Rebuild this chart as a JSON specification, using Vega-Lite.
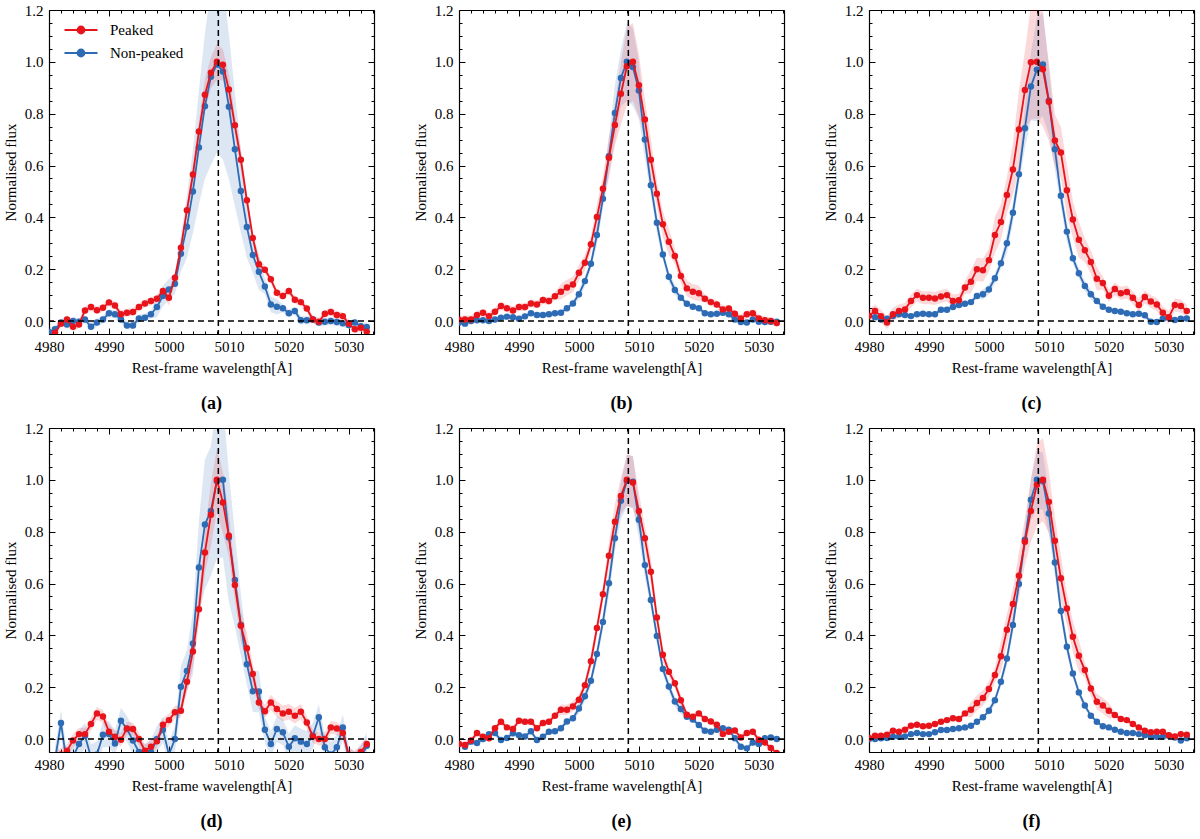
{
  "$schema": "https://vega.github.io/schema/vega-lite/v6.json",
  "background": "white",
  "padding": 3,
  "config": {
    "font": "Liberation Serif, DejaVu Serif, serif",
    "view": {"stroke": null},
    "axis": {"domainColor": "black", "domainWidth": 1.2, "tickColor": "black", "labelColor": "black", "titleColor": "black", "grid": false, "labelFont": "Liberation Serif, DejaVu Serif, serif", "titleFont": "Liberation Serif, DejaVu Serif, serif"},
    "legend": {"labelFont": "Liberation Serif, DejaVu Serif, serif"},
    "header": {"labelFont": "Liberation Serif, DejaVu Serif, serif"}
  },
  "data": {"values": [
    {"p":"(a)","g":"Non-peaked","x":4980,"y":-0.042,"lo":-0.057,"hi":-0.027},
    {"p":"(a)","g":"Non-peaked","x":4981,"y":-0.032,"lo":-0.047,"hi":-0.017},
    {"p":"(a)","g":"Non-peaked","x":4982,"y":-0.006,"lo":-0.021,"hi":0.009},
    {"p":"(a)","g":"Non-peaked","x":4983,"y":-0.013,"lo":-0.028,"hi":0.002},
    {"p":"(a)","g":"Non-peaked","x":4984,"y":0.0,"lo":-0.015,"hi":0.015},
    {"p":"(a)","g":"Non-peaked","x":4985,"y":-0.003,"lo":-0.018,"hi":0.012},
    {"p":"(a)","g":"Non-peaked","x":4986,"y":0.006,"lo":-0.009,"hi":0.021},
    {"p":"(a)","g":"Non-peaked","x":4987,"y":-0.022,"lo":-0.037,"hi":-0.007},
    {"p":"(a)","g":"Non-peaked","x":4988,"y":-0.006,"lo":-0.021,"hi":0.009},
    {"p":"(a)","g":"Non-peaked","x":4989,"y":0.006,"lo":-0.009,"hi":0.021},
    {"p":"(a)","g":"Non-peaked","x":4990,"y":0.03,"lo":0.015,"hi":0.045},
    {"p":"(a)","g":"Non-peaked","x":4991,"y":0.026,"lo":0.011,"hi":0.041},
    {"p":"(a)","g":"Non-peaked","x":4992,"y":0.006,"lo":-0.009,"hi":0.021},
    {"p":"(a)","g":"Non-peaked","x":4993,"y":-0.017,"lo":-0.032,"hi":-0.002},
    {"p":"(a)","g":"Non-peaked","x":4994,"y":-0.017,"lo":-0.032,"hi":-0.002},
    {"p":"(a)","g":"Non-peaked","x":4995,"y":0.01,"lo":-0.005,"hi":0.025},
    {"p":"(a)","g":"Non-peaked","x":4996,"y":0.013,"lo":-0.002,"hi":0.028},
    {"p":"(a)","g":"Non-peaked","x":4997,"y":0.026,"lo":0.011,"hi":0.041},
    {"p":"(a)","g":"Non-peaked","x":4998,"y":0.054,"lo":0.014,"hi":0.094},
    {"p":"(a)","g":"Non-peaked","x":4999,"y":0.097,"lo":0.057,"hi":0.137},
    {"p":"(a)","g":"Non-peaked","x":5000,"y":0.122,"lo":0.082,"hi":0.162},
    {"p":"(a)","g":"Non-peaked","x":5001,"y":0.144,"lo":0.104,"hi":0.184},
    {"p":"(a)","g":"Non-peaked","x":5002,"y":0.26,"lo":0.19,"hi":0.33},
    {"p":"(a)","g":"Non-peaked","x":5003,"y":0.364,"lo":0.244,"hi":0.484},
    {"p":"(a)","g":"Non-peaked","x":5004,"y":0.5,"lo":0.34,"hi":0.66},
    {"p":"(a)","g":"Non-peaked","x":5005,"y":0.67,"lo":0.45,"hi":0.89},
    {"p":"(a)","g":"Non-peaked","x":5006,"y":0.829,"lo":0.549,"hi":1.109},
    {"p":"(a)","g":"Non-peaked","x":5007,"y":0.942,"lo":0.602,"hi":1.282},
    {"p":"(a)","g":"Non-peaked","x":5008,"y":0.99,"lo":0.65,"hi":1.33},
    {"p":"(a)","g":"Non-peaked","x":5009,"y":0.963,"lo":0.623,"hi":1.303},
    {"p":"(a)","g":"Non-peaked","x":5010,"y":0.827,"lo":0.547,"hi":1.107},
    {"p":"(a)","g":"Non-peaked","x":5011,"y":0.663,"lo":0.443,"hi":0.883},
    {"p":"(a)","g":"Non-peaked","x":5012,"y":0.502,"lo":0.342,"hi":0.662},
    {"p":"(a)","g":"Non-peaked","x":5013,"y":0.363,"lo":0.243,"hi":0.483},
    {"p":"(a)","g":"Non-peaked","x":5014,"y":0.255,"lo":0.185,"hi":0.325},
    {"p":"(a)","g":"Non-peaked","x":5015,"y":0.19,"lo":0.12,"hi":0.26},
    {"p":"(a)","g":"Non-peaked","x":5016,"y":0.133,"lo":0.103,"hi":0.163},
    {"p":"(a)","g":"Non-peaked","x":5017,"y":0.064,"lo":0.034,"hi":0.094},
    {"p":"(a)","g":"Non-peaked","x":5018,"y":0.055,"lo":0.025,"hi":0.085},
    {"p":"(a)","g":"Non-peaked","x":5019,"y":0.049,"lo":0.034,"hi":0.064},
    {"p":"(a)","g":"Non-peaked","x":5020,"y":0.03,"lo":0.015,"hi":0.045},
    {"p":"(a)","g":"Non-peaked","x":5021,"y":0.039,"lo":0.024,"hi":0.054},
    {"p":"(a)","g":"Non-peaked","x":5022,"y":0.003,"lo":-0.012,"hi":0.018},
    {"p":"(a)","g":"Non-peaked","x":5023,"y":0.003,"lo":-0.012,"hi":0.018},
    {"p":"(a)","g":"Non-peaked","x":5024,"y":0.006,"lo":-0.009,"hi":0.021},
    {"p":"(a)","g":"Non-peaked","x":5025,"y":-0.006,"lo":-0.021,"hi":0.009},
    {"p":"(a)","g":"Non-peaked","x":5026,"y":-0.003,"lo":-0.018,"hi":0.012},
    {"p":"(a)","g":"Non-peaked","x":5027,"y":0.0,"lo":-0.015,"hi":0.015},
    {"p":"(a)","g":"Non-peaked","x":5028,"y":-0.004,"lo":-0.019,"hi":0.011},
    {"p":"(a)","g":"Non-peaked","x":5029,"y":-0.009,"lo":-0.024,"hi":0.006},
    {"p":"(a)","g":"Non-peaked","x":5030,"y":-0.015,"lo":-0.03,"hi":0.0},
    {"p":"(a)","g":"Non-peaked","x":5031,"y":-0.006,"lo":-0.021,"hi":0.009},
    {"p":"(a)","g":"Non-peaked","x":5032,"y":-0.02,"lo":-0.035,"hi":-0.005},
    {"p":"(a)","g":"Non-peaked","x":5033,"y":-0.023,"lo":-0.038,"hi":-0.008},
    {"p":"(a)","g":"Peaked","x":4981,"y":-0.045,"lo":-0.06,"hi":-0.03},
    {"p":"(a)","g":"Peaked","x":4982,"y":-0.01,"lo":-0.025,"hi":0.005},
    {"p":"(a)","g":"Peaked","x":4983,"y":0.006,"lo":-0.009,"hi":0.021},
    {"p":"(a)","g":"Peaked","x":4984,"y":-0.022,"lo":-0.037,"hi":-0.007},
    {"p":"(a)","g":"Peaked","x":4985,"y":-0.013,"lo":-0.028,"hi":0.002},
    {"p":"(a)","g":"Peaked","x":4986,"y":0.041,"lo":0.026,"hi":0.056},
    {"p":"(a)","g":"Peaked","x":4987,"y":0.054,"lo":0.039,"hi":0.069},
    {"p":"(a)","g":"Peaked","x":4988,"y":0.042,"lo":0.027,"hi":0.057},
    {"p":"(a)","g":"Peaked","x":4989,"y":0.051,"lo":0.036,"hi":0.066},
    {"p":"(a)","g":"Peaked","x":4990,"y":0.072,"lo":0.057,"hi":0.087},
    {"p":"(a)","g":"Peaked","x":4991,"y":0.06,"lo":0.045,"hi":0.075},
    {"p":"(a)","g":"Peaked","x":4992,"y":0.026,"lo":0.011,"hi":0.041},
    {"p":"(a)","g":"Peaked","x":4993,"y":0.032,"lo":0.017,"hi":0.047},
    {"p":"(a)","g":"Peaked","x":4994,"y":0.035,"lo":0.02,"hi":0.05},
    {"p":"(a)","g":"Peaked","x":4995,"y":0.054,"lo":0.039,"hi":0.069},
    {"p":"(a)","g":"Peaked","x":4996,"y":0.068,"lo":0.053,"hi":0.083},
    {"p":"(a)","g":"Peaked","x":4997,"y":0.077,"lo":0.062,"hi":0.092},
    {"p":"(a)","g":"Peaked","x":4998,"y":0.086,"lo":0.071,"hi":0.101},
    {"p":"(a)","g":"Peaked","x":4999,"y":0.116,"lo":0.101,"hi":0.131},
    {"p":"(a)","g":"Peaked","x":5000,"y":0.09,"lo":0.06,"hi":0.12},
    {"p":"(a)","g":"Peaked","x":5001,"y":0.167,"lo":0.152,"hi":0.182},
    {"p":"(a)","g":"Peaked","x":5002,"y":0.283,"lo":0.258,"hi":0.308},
    {"p":"(a)","g":"Peaked","x":5003,"y":0.427,"lo":0.402,"hi":0.452},
    {"p":"(a)","g":"Peaked","x":5004,"y":0.565,"lo":0.525,"hi":0.605},
    {"p":"(a)","g":"Peaked","x":5005,"y":0.731,"lo":0.691,"hi":0.771},
    {"p":"(a)","g":"Peaked","x":5006,"y":0.873,"lo":0.813,"hi":0.933},
    {"p":"(a)","g":"Peaked","x":5007,"y":0.958,"lo":0.898,"hi":1.018},
    {"p":"(a)","g":"Peaked","x":5008,"y":1.0,"lo":0.93,"hi":1.07},
    {"p":"(a)","g":"Peaked","x":5009,"y":0.989,"lo":0.929,"hi":1.049},
    {"p":"(a)","g":"Peaked","x":5010,"y":0.893,"lo":0.833,"hi":0.953},
    {"p":"(a)","g":"Peaked","x":5011,"y":0.755,"lo":0.715,"hi":0.795},
    {"p":"(a)","g":"Peaked","x":5012,"y":0.622,"lo":0.582,"hi":0.662},
    {"p":"(a)","g":"Peaked","x":5013,"y":0.466,"lo":0.441,"hi":0.491},
    {"p":"(a)","g":"Peaked","x":5014,"y":0.32,"lo":0.295,"hi":0.345},
    {"p":"(a)","g":"Peaked","x":5015,"y":0.219,"lo":0.194,"hi":0.244},
    {"p":"(a)","g":"Peaked","x":5016,"y":0.198,"lo":0.183,"hi":0.213},
    {"p":"(a)","g":"Peaked","x":5017,"y":0.161,"lo":0.146,"hi":0.176},
    {"p":"(a)","g":"Peaked","x":5018,"y":0.109,"lo":0.094,"hi":0.124},
    {"p":"(a)","g":"Peaked","x":5019,"y":0.097,"lo":0.082,"hi":0.112},
    {"p":"(a)","g":"Peaked","x":5020,"y":0.116,"lo":0.101,"hi":0.131},
    {"p":"(a)","g":"Peaked","x":5021,"y":0.082,"lo":0.067,"hi":0.097},
    {"p":"(a)","g":"Peaked","x":5022,"y":0.073,"lo":0.058,"hi":0.088},
    {"p":"(a)","g":"Peaked","x":5023,"y":0.048,"lo":0.033,"hi":0.063},
    {"p":"(a)","g":"Peaked","x":5024,"y":0.006,"lo":-0.009,"hi":0.021},
    {"p":"(a)","g":"Peaked","x":5025,"y":-0.003,"lo":-0.018,"hi":0.012},
    {"p":"(a)","g":"Peaked","x":5026,"y":0.028,"lo":0.013,"hi":0.043},
    {"p":"(a)","g":"Peaked","x":5027,"y":0.035,"lo":0.02,"hi":0.05},
    {"p":"(a)","g":"Peaked","x":5028,"y":0.023,"lo":0.008,"hi":0.038},
    {"p":"(a)","g":"Peaked","x":5029,"y":0.019,"lo":0.004,"hi":0.034},
    {"p":"(a)","g":"Peaked","x":5030,"y":-0.01,"lo":-0.025,"hi":0.005},
    {"p":"(a)","g":"Peaked","x":5031,"y":-0.032,"lo":-0.047,"hi":-0.017},
    {"p":"(a)","g":"Peaked","x":5032,"y":-0.026,"lo":-0.041,"hi":-0.011},
    {"p":"(a)","g":"Peaked","x":5033,"y":-0.041,"lo":-0.056,"hi":-0.026},

    {"p":"(b)","g":"Non-peaked","x":4980,"y":-0.006,"lo":-0.016,"hi":0.004},
    {"p":"(b)","g":"Non-peaked","x":4981,"y":-0.01,"lo":-0.02,"hi":0.0},
    {"p":"(b)","g":"Non-peaked","x":4982,"y":0.0,"lo":-0.01,"hi":0.01},
    {"p":"(b)","g":"Non-peaked","x":4983,"y":0.003,"lo":-0.007,"hi":0.013},
    {"p":"(b)","g":"Non-peaked","x":4984,"y":0.003,"lo":-0.007,"hi":0.013},
    {"p":"(b)","g":"Non-peaked","x":4985,"y":0.0,"lo":-0.01,"hi":0.01},
    {"p":"(b)","g":"Non-peaked","x":4986,"y":0.006,"lo":-0.004,"hi":0.016},
    {"p":"(b)","g":"Non-peaked","x":4987,"y":0.013,"lo":0.003,"hi":0.023},
    {"p":"(b)","g":"Non-peaked","x":4988,"y":0.017,"lo":0.007,"hi":0.027},
    {"p":"(b)","g":"Non-peaked","x":4989,"y":0.015,"lo":0.005,"hi":0.025},
    {"p":"(b)","g":"Non-peaked","x":4990,"y":0.009,"lo":-0.001,"hi":0.019},
    {"p":"(b)","g":"Non-peaked","x":4991,"y":0.018,"lo":0.008,"hi":0.028},
    {"p":"(b)","g":"Non-peaked","x":4992,"y":0.03,"lo":0.02,"hi":0.04},
    {"p":"(b)","g":"Non-peaked","x":4993,"y":0.023,"lo":0.013,"hi":0.033},
    {"p":"(b)","g":"Non-peaked","x":4994,"y":0.023,"lo":0.013,"hi":0.033},
    {"p":"(b)","g":"Non-peaked","x":4995,"y":0.026,"lo":0.016,"hi":0.036},
    {"p":"(b)","g":"Non-peaked","x":4996,"y":0.03,"lo":0.02,"hi":0.04},
    {"p":"(b)","g":"Non-peaked","x":4997,"y":0.032,"lo":0.022,"hi":0.042},
    {"p":"(b)","g":"Non-peaked","x":4998,"y":0.049,"lo":0.039,"hi":0.059},
    {"p":"(b)","g":"Non-peaked","x":4999,"y":0.068,"lo":0.058,"hi":0.078},
    {"p":"(b)","g":"Non-peaked","x":5000,"y":0.103,"lo":0.083,"hi":0.123},
    {"p":"(b)","g":"Non-peaked","x":5001,"y":0.154,"lo":0.134,"hi":0.174},
    {"p":"(b)","g":"Non-peaked","x":5002,"y":0.221,"lo":0.201,"hi":0.241},
    {"p":"(b)","g":"Non-peaked","x":5003,"y":0.332,"lo":0.292,"hi":0.372},
    {"p":"(b)","g":"Non-peaked","x":5004,"y":0.472,"lo":0.432,"hi":0.512},
    {"p":"(b)","g":"Non-peaked","x":5005,"y":0.636,"lo":0.566,"hi":0.706},
    {"p":"(b)","g":"Non-peaked","x":5006,"y":0.803,"lo":0.693,"hi":0.913},
    {"p":"(b)","g":"Non-peaked","x":5007,"y":0.938,"lo":0.828,"hi":1.048},
    {"p":"(b)","g":"Non-peaked","x":5008,"y":1.0,"lo":0.85,"hi":1.15},
    {"p":"(b)","g":"Non-peaked","x":5009,"y":0.98,"lo":0.83,"hi":1.13},
    {"p":"(b)","g":"Non-peaked","x":5010,"y":0.889,"lo":0.779,"hi":0.999},
    {"p":"(b)","g":"Non-peaked","x":5011,"y":0.7,"lo":0.63,"hi":0.77},
    {"p":"(b)","g":"Non-peaked","x":5012,"y":0.524,"lo":0.484,"hi":0.564},
    {"p":"(b)","g":"Non-peaked","x":5013,"y":0.379,"lo":0.339,"hi":0.419},
    {"p":"(b)","g":"Non-peaked","x":5014,"y":0.257,"lo":0.237,"hi":0.277},
    {"p":"(b)","g":"Non-peaked","x":5015,"y":0.171,"lo":0.151,"hi":0.191},
    {"p":"(b)","g":"Non-peaked","x":5016,"y":0.12,"lo":0.1,"hi":0.14},
    {"p":"(b)","g":"Non-peaked","x":5017,"y":0.09,"lo":0.08,"hi":0.1},
    {"p":"(b)","g":"Non-peaked","x":5018,"y":0.067,"lo":0.057,"hi":0.077},
    {"p":"(b)","g":"Non-peaked","x":5019,"y":0.055,"lo":0.045,"hi":0.065},
    {"p":"(b)","g":"Non-peaked","x":5020,"y":0.049,"lo":0.039,"hi":0.059},
    {"p":"(b)","g":"Non-peaked","x":5021,"y":0.03,"lo":0.02,"hi":0.04},
    {"p":"(b)","g":"Non-peaked","x":5022,"y":0.026,"lo":0.016,"hi":0.036},
    {"p":"(b)","g":"Non-peaked","x":5023,"y":0.028,"lo":0.018,"hi":0.038},
    {"p":"(b)","g":"Non-peaked","x":5024,"y":0.032,"lo":0.022,"hi":0.042},
    {"p":"(b)","g":"Non-peaked","x":5025,"y":0.026,"lo":0.016,"hi":0.036},
    {"p":"(b)","g":"Non-peaked","x":5026,"y":0.006,"lo":-0.004,"hi":0.016},
    {"p":"(b)","g":"Non-peaked","x":5027,"y":-0.004,"lo":-0.014,"hi":0.006},
    {"p":"(b)","g":"Non-peaked","x":5028,"y":-0.006,"lo":-0.016,"hi":0.004},
    {"p":"(b)","g":"Non-peaked","x":5029,"y":0.006,"lo":-0.004,"hi":0.016},
    {"p":"(b)","g":"Non-peaked","x":5030,"y":-0.003,"lo":-0.013,"hi":0.007},
    {"p":"(b)","g":"Non-peaked","x":5031,"y":-0.004,"lo":-0.014,"hi":0.006},
    {"p":"(b)","g":"Non-peaked","x":5032,"y":-0.003,"lo":-0.013,"hi":0.007},
    {"p":"(b)","g":"Non-peaked","x":5033,"y":-0.003,"lo":-0.013,"hi":0.007},
    {"p":"(b)","g":"Peaked","x":4980,"y":0.005,"lo":-0.01,"hi":0.02},
    {"p":"(b)","g":"Peaked","x":4981,"y":0.006,"lo":-0.009,"hi":0.021},
    {"p":"(b)","g":"Peaked","x":4982,"y":0.006,"lo":-0.009,"hi":0.021},
    {"p":"(b)","g":"Peaked","x":4983,"y":0.023,"lo":0.008,"hi":0.038},
    {"p":"(b)","g":"Peaked","x":4984,"y":0.032,"lo":0.017,"hi":0.047},
    {"p":"(b)","g":"Peaked","x":4985,"y":0.019,"lo":0.004,"hi":0.034},
    {"p":"(b)","g":"Peaked","x":4986,"y":0.036,"lo":0.021,"hi":0.051},
    {"p":"(b)","g":"Peaked","x":4987,"y":0.058,"lo":0.043,"hi":0.073},
    {"p":"(b)","g":"Peaked","x":4988,"y":0.049,"lo":0.034,"hi":0.064},
    {"p":"(b)","g":"Peaked","x":4989,"y":0.041,"lo":0.026,"hi":0.056},
    {"p":"(b)","g":"Peaked","x":4990,"y":0.054,"lo":0.039,"hi":0.069},
    {"p":"(b)","g":"Peaked","x":4991,"y":0.054,"lo":0.039,"hi":0.069},
    {"p":"(b)","g":"Peaked","x":4992,"y":0.068,"lo":0.053,"hi":0.083},
    {"p":"(b)","g":"Peaked","x":4993,"y":0.064,"lo":0.049,"hi":0.079},
    {"p":"(b)","g":"Peaked","x":4994,"y":0.081,"lo":0.066,"hi":0.096},
    {"p":"(b)","g":"Peaked","x":4995,"y":0.077,"lo":0.062,"hi":0.092},
    {"p":"(b)","g":"Peaked","x":4996,"y":0.096,"lo":0.081,"hi":0.111},
    {"p":"(b)","g":"Peaked","x":4997,"y":0.113,"lo":0.083,"hi":0.143},
    {"p":"(b)","g":"Peaked","x":4998,"y":0.129,"lo":0.099,"hi":0.159},
    {"p":"(b)","g":"Peaked","x":4999,"y":0.141,"lo":0.111,"hi":0.171},
    {"p":"(b)","g":"Peaked","x":5000,"y":0.186,"lo":0.156,"hi":0.216},
    {"p":"(b)","g":"Peaked","x":5001,"y":0.225,"lo":0.195,"hi":0.255},
    {"p":"(b)","g":"Peaked","x":5002,"y":0.296,"lo":0.266,"hi":0.326},
    {"p":"(b)","g":"Peaked","x":5003,"y":0.401,"lo":0.351,"hi":0.451},
    {"p":"(b)","g":"Peaked","x":5004,"y":0.51,"lo":0.46,"hi":0.56},
    {"p":"(b)","g":"Peaked","x":5005,"y":0.63,"lo":0.55,"hi":0.71},
    {"p":"(b)","g":"Peaked","x":5006,"y":0.756,"lo":0.676,"hi":0.836},
    {"p":"(b)","g":"Peaked","x":5007,"y":0.877,"lo":0.757,"hi":0.997},
    {"p":"(b)","g":"Peaked","x":5008,"y":0.983,"lo":0.833,"hi":1.133},
    {"p":"(b)","g":"Peaked","x":5009,"y":1.0,"lo":0.85,"hi":1.15},
    {"p":"(b)","g":"Peaked","x":5010,"y":0.91,"lo":0.79,"hi":1.03},
    {"p":"(b)","g":"Peaked","x":5011,"y":0.778,"lo":0.698,"hi":0.858},
    {"p":"(b)","g":"Peaked","x":5012,"y":0.622,"lo":0.542,"hi":0.702},
    {"p":"(b)","g":"Peaked","x":5013,"y":0.491,"lo":0.441,"hi":0.541},
    {"p":"(b)","g":"Peaked","x":5014,"y":0.373,"lo":0.323,"hi":0.423},
    {"p":"(b)","g":"Peaked","x":5015,"y":0.306,"lo":0.256,"hi":0.356},
    {"p":"(b)","g":"Peaked","x":5016,"y":0.251,"lo":0.221,"hi":0.281},
    {"p":"(b)","g":"Peaked","x":5017,"y":0.174,"lo":0.144,"hi":0.204},
    {"p":"(b)","g":"Peaked","x":5018,"y":0.126,"lo":0.096,"hi":0.156},
    {"p":"(b)","g":"Peaked","x":5019,"y":0.113,"lo":0.083,"hi":0.143},
    {"p":"(b)","g":"Peaked","x":5020,"y":0.107,"lo":0.077,"hi":0.137},
    {"p":"(b)","g":"Peaked","x":5021,"y":0.086,"lo":0.071,"hi":0.101},
    {"p":"(b)","g":"Peaked","x":5022,"y":0.073,"lo":0.058,"hi":0.088},
    {"p":"(b)","g":"Peaked","x":5023,"y":0.064,"lo":0.049,"hi":0.079},
    {"p":"(b)","g":"Peaked","x":5024,"y":0.045,"lo":0.03,"hi":0.06},
    {"p":"(b)","g":"Peaked","x":5025,"y":0.048,"lo":0.033,"hi":0.063},
    {"p":"(b)","g":"Peaked","x":5026,"y":0.028,"lo":0.013,"hi":0.043},
    {"p":"(b)","g":"Peaked","x":5027,"y":0.01,"lo":-0.005,"hi":0.025},
    {"p":"(b)","g":"Peaked","x":5028,"y":0.026,"lo":0.011,"hi":0.041},
    {"p":"(b)","g":"Peaked","x":5029,"y":0.03,"lo":0.015,"hi":0.045},
    {"p":"(b)","g":"Peaked","x":5030,"y":0.01,"lo":-0.005,"hi":0.025},
    {"p":"(b)","g":"Peaked","x":5031,"y":0.003,"lo":-0.012,"hi":0.018},
    {"p":"(b)","g":"Peaked","x":5032,"y":0.0,"lo":-0.015,"hi":0.015},
    {"p":"(b)","g":"Peaked","x":5033,"y":-0.008,"lo":-0.023,"hi":0.007},

    {"p":"(c)","g":"Non-peaked","x":4981,"y":0.015,"lo":0.005,"hi":0.025},
    {"p":"(c)","g":"Non-peaked","x":4982,"y":0.006,"lo":-0.004,"hi":0.016},
    {"p":"(c)","g":"Non-peaked","x":4983,"y":0.009,"lo":-0.001,"hi":0.019},
    {"p":"(c)","g":"Non-peaked","x":4984,"y":0.019,"lo":0.009,"hi":0.029},
    {"p":"(c)","g":"Non-peaked","x":4985,"y":0.026,"lo":0.016,"hi":0.036},
    {"p":"(c)","g":"Non-peaked","x":4986,"y":0.023,"lo":0.013,"hi":0.033},
    {"p":"(c)","g":"Non-peaked","x":4987,"y":0.019,"lo":0.009,"hi":0.029},
    {"p":"(c)","g":"Non-peaked","x":4988,"y":0.026,"lo":0.016,"hi":0.036},
    {"p":"(c)","g":"Non-peaked","x":4989,"y":0.028,"lo":0.018,"hi":0.038},
    {"p":"(c)","g":"Non-peaked","x":4990,"y":0.026,"lo":0.016,"hi":0.036},
    {"p":"(c)","g":"Non-peaked","x":4991,"y":0.026,"lo":0.016,"hi":0.036},
    {"p":"(c)","g":"Non-peaked","x":4992,"y":0.044,"lo":0.034,"hi":0.054},
    {"p":"(c)","g":"Non-peaked","x":4993,"y":0.044,"lo":0.034,"hi":0.054},
    {"p":"(c)","g":"Non-peaked","x":4994,"y":0.054,"lo":0.044,"hi":0.064},
    {"p":"(c)","g":"Non-peaked","x":4995,"y":0.062,"lo":0.052,"hi":0.072},
    {"p":"(c)","g":"Non-peaked","x":4996,"y":0.067,"lo":0.057,"hi":0.077},
    {"p":"(c)","g":"Non-peaked","x":4997,"y":0.073,"lo":0.063,"hi":0.083},
    {"p":"(c)","g":"Non-peaked","x":4998,"y":0.097,"lo":0.087,"hi":0.107},
    {"p":"(c)","g":"Non-peaked","x":4999,"y":0.103,"lo":0.083,"hi":0.123},
    {"p":"(c)","g":"Non-peaked","x":5000,"y":0.122,"lo":0.102,"hi":0.142},
    {"p":"(c)","g":"Non-peaked","x":5001,"y":0.165,"lo":0.145,"hi":0.185},
    {"p":"(c)","g":"Non-peaked","x":5002,"y":0.223,"lo":0.203,"hi":0.243},
    {"p":"(c)","g":"Non-peaked","x":5003,"y":0.3,"lo":0.26,"hi":0.34},
    {"p":"(c)","g":"Non-peaked","x":5004,"y":0.418,"lo":0.378,"hi":0.458},
    {"p":"(c)","g":"Non-peaked","x":5005,"y":0.566,"lo":0.526,"hi":0.606},
    {"p":"(c)","g":"Non-peaked","x":5006,"y":0.744,"lo":0.664,"hi":0.824},
    {"p":"(c)","g":"Non-peaked","x":5007,"y":0.905,"lo":0.775,"hi":1.035},
    {"p":"(c)","g":"Non-peaked","x":5008,"y":0.97,"lo":0.77,"hi":1.17},
    {"p":"(c)","g":"Non-peaked","x":5009,"y":0.99,"lo":0.79,"hi":1.19},
    {"p":"(c)","g":"Non-peaked","x":5010,"y":0.85,"lo":0.72,"hi":0.98},
    {"p":"(c)","g":"Non-peaked","x":5011,"y":0.663,"lo":0.583,"hi":0.743},
    {"p":"(c)","g":"Non-peaked","x":5012,"y":0.483,"lo":0.443,"hi":0.523},
    {"p":"(c)","g":"Non-peaked","x":5013,"y":0.345,"lo":0.305,"hi":0.385},
    {"p":"(c)","g":"Non-peaked","x":5014,"y":0.242,"lo":0.222,"hi":0.262},
    {"p":"(c)","g":"Non-peaked","x":5015,"y":0.184,"lo":0.164,"hi":0.204},
    {"p":"(c)","g":"Non-peaked","x":5016,"y":0.135,"lo":0.115,"hi":0.155},
    {"p":"(c)","g":"Non-peaked","x":5017,"y":0.103,"lo":0.083,"hi":0.123},
    {"p":"(c)","g":"Non-peaked","x":5018,"y":0.077,"lo":0.067,"hi":0.087},
    {"p":"(c)","g":"Non-peaked","x":5019,"y":0.055,"lo":0.045,"hi":0.065},
    {"p":"(c)","g":"Non-peaked","x":5020,"y":0.044,"lo":0.034,"hi":0.054},
    {"p":"(c)","g":"Non-peaked","x":5021,"y":0.039,"lo":0.029,"hi":0.049},
    {"p":"(c)","g":"Non-peaked","x":5022,"y":0.036,"lo":0.026,"hi":0.046},
    {"p":"(c)","g":"Non-peaked","x":5023,"y":0.03,"lo":0.02,"hi":0.04},
    {"p":"(c)","g":"Non-peaked","x":5024,"y":0.026,"lo":0.016,"hi":0.036},
    {"p":"(c)","g":"Non-peaked","x":5025,"y":0.028,"lo":0.018,"hi":0.038},
    {"p":"(c)","g":"Non-peaked","x":5026,"y":0.022,"lo":0.012,"hi":0.032},
    {"p":"(c)","g":"Non-peaked","x":5027,"y":-0.003,"lo":-0.013,"hi":0.007},
    {"p":"(c)","g":"Non-peaked","x":5028,"y":-0.004,"lo":-0.014,"hi":0.006},
    {"p":"(c)","g":"Non-peaked","x":5029,"y":0.009,"lo":-0.001,"hi":0.019},
    {"p":"(c)","g":"Non-peaked","x":5030,"y":0.013,"lo":0.003,"hi":0.023},
    {"p":"(c)","g":"Non-peaked","x":5031,"y":0.004,"lo":-0.006,"hi":0.014},
    {"p":"(c)","g":"Non-peaked","x":5032,"y":0.009,"lo":-0.001,"hi":0.019},
    {"p":"(c)","g":"Non-peaked","x":5033,"y":0.01,"lo":0.0,"hi":0.02},
    {"p":"(c)","g":"Peaked","x":4980,"y":0.02,"lo":-0.005,"hi":0.045},
    {"p":"(c)","g":"Peaked","x":4981,"y":0.039,"lo":0.014,"hi":0.064},
    {"p":"(c)","g":"Peaked","x":4982,"y":0.019,"lo":-0.006,"hi":0.044},
    {"p":"(c)","g":"Peaked","x":4983,"y":-0.006,"lo":-0.031,"hi":0.019},
    {"p":"(c)","g":"Peaked","x":4984,"y":0.026,"lo":0.001,"hi":0.051},
    {"p":"(c)","g":"Peaked","x":4985,"y":0.039,"lo":0.014,"hi":0.064},
    {"p":"(c)","g":"Peaked","x":4986,"y":0.045,"lo":0.02,"hi":0.07},
    {"p":"(c)","g":"Peaked","x":4987,"y":0.077,"lo":0.052,"hi":0.102},
    {"p":"(c)","g":"Peaked","x":4988,"y":0.1,"lo":0.075,"hi":0.125},
    {"p":"(c)","g":"Peaked","x":4989,"y":0.09,"lo":0.065,"hi":0.115},
    {"p":"(c)","g":"Peaked","x":4990,"y":0.09,"lo":0.065,"hi":0.115},
    {"p":"(c)","g":"Peaked","x":4991,"y":0.087,"lo":0.062,"hi":0.112},
    {"p":"(c)","g":"Peaked","x":4992,"y":0.095,"lo":0.07,"hi":0.12},
    {"p":"(c)","g":"Peaked","x":4993,"y":0.1,"lo":0.075,"hi":0.125},
    {"p":"(c)","g":"Peaked","x":4994,"y":0.077,"lo":0.052,"hi":0.102},
    {"p":"(c)","g":"Peaked","x":4995,"y":0.08,"lo":0.055,"hi":0.105},
    {"p":"(c)","g":"Peaked","x":4996,"y":0.129,"lo":0.104,"hi":0.154},
    {"p":"(c)","g":"Peaked","x":4997,"y":0.152,"lo":0.107,"hi":0.197},
    {"p":"(c)","g":"Peaked","x":4998,"y":0.2,"lo":0.155,"hi":0.245},
    {"p":"(c)","g":"Peaked","x":4999,"y":0.196,"lo":0.151,"hi":0.241},
    {"p":"(c)","g":"Peaked","x":5000,"y":0.235,"lo":0.19,"hi":0.28},
    {"p":"(c)","g":"Peaked","x":5001,"y":0.332,"lo":0.262,"hi":0.402},
    {"p":"(c)","g":"Peaked","x":5002,"y":0.382,"lo":0.312,"hi":0.452},
    {"p":"(c)","g":"Peaked","x":5003,"y":0.486,"lo":0.416,"hi":0.556},
    {"p":"(c)","g":"Peaked","x":5004,"y":0.585,"lo":0.485,"hi":0.685},
    {"p":"(c)","g":"Peaked","x":5005,"y":0.739,"lo":0.589,"hi":0.889},
    {"p":"(c)","g":"Peaked","x":5006,"y":0.891,"lo":0.741,"hi":1.041},
    {"p":"(c)","g":"Peaked","x":5007,"y":0.998,"lo":0.778,"hi":1.218},
    {"p":"(c)","g":"Peaked","x":5008,"y":1.0,"lo":0.78,"hi":1.22},
    {"p":"(c)","g":"Peaked","x":5009,"y":0.971,"lo":0.751,"hi":1.191},
    {"p":"(c)","g":"Peaked","x":5010,"y":0.846,"lo":0.696,"hi":0.996},
    {"p":"(c)","g":"Peaked","x":5011,"y":0.697,"lo":0.597,"hi":0.797},
    {"p":"(c)","g":"Peaked","x":5012,"y":0.65,"lo":0.55,"hi":0.75},
    {"p":"(c)","g":"Peaked","x":5013,"y":0.505,"lo":0.405,"hi":0.605},
    {"p":"(c)","g":"Peaked","x":5014,"y":0.392,"lo":0.322,"hi":0.462},
    {"p":"(c)","g":"Peaked","x":5015,"y":0.314,"lo":0.244,"hi":0.384},
    {"p":"(c)","g":"Peaked","x":5016,"y":0.273,"lo":0.228,"hi":0.318},
    {"p":"(c)","g":"Peaked","x":5017,"y":0.228,"lo":0.183,"hi":0.273},
    {"p":"(c)","g":"Peaked","x":5018,"y":0.163,"lo":0.118,"hi":0.208},
    {"p":"(c)","g":"Peaked","x":5019,"y":0.147,"lo":0.122,"hi":0.172},
    {"p":"(c)","g":"Peaked","x":5020,"y":0.098,"lo":0.073,"hi":0.123},
    {"p":"(c)","g":"Peaked","x":5021,"y":0.124,"lo":0.099,"hi":0.149},
    {"p":"(c)","g":"Peaked","x":5022,"y":0.107,"lo":0.082,"hi":0.132},
    {"p":"(c)","g":"Peaked","x":5023,"y":0.112,"lo":0.087,"hi":0.137},
    {"p":"(c)","g":"Peaked","x":5024,"y":0.09,"lo":0.065,"hi":0.115},
    {"p":"(c)","g":"Peaked","x":5025,"y":0.062,"lo":0.037,"hi":0.087},
    {"p":"(c)","g":"Peaked","x":5026,"y":0.093,"lo":0.068,"hi":0.118},
    {"p":"(c)","g":"Peaked","x":5027,"y":0.075,"lo":0.05,"hi":0.1},
    {"p":"(c)","g":"Peaked","x":5028,"y":0.064,"lo":0.039,"hi":0.089},
    {"p":"(c)","g":"Peaked","x":5029,"y":0.032,"lo":0.007,"hi":0.057},
    {"p":"(c)","g":"Peaked","x":5030,"y":0.015,"lo":-0.01,"hi":0.04},
    {"p":"(c)","g":"Peaked","x":5031,"y":0.062,"lo":0.037,"hi":0.087},
    {"p":"(c)","g":"Peaked","x":5032,"y":0.058,"lo":0.033,"hi":0.083},
    {"p":"(c)","g":"Peaked","x":5033,"y":0.039,"lo":0.014,"hi":0.064},

    {"p":"(d)","g":"Non-peaked","x":4981,"y":-0.08,"lo":-0.13,"hi":-0.03},
    {"p":"(d)","g":"Non-peaked","x":4982,"y":0.062,"lo":0.012,"hi":0.112},
    {"p":"(d)","g":"Non-peaked","x":4983,"y":-0.1,"lo":-0.15,"hi":-0.05},
    {"p":"(d)","g":"Non-peaked","x":4984,"y":-0.07,"lo":-0.12,"hi":-0.02},
    {"p":"(d)","g":"Non-peaked","x":4985,"y":-0.019,"lo":-0.069,"hi":0.031},
    {"p":"(d)","g":"Non-peaked","x":4986,"y":0.013,"lo":-0.037,"hi":0.063},
    {"p":"(d)","g":"Non-peaked","x":4987,"y":-0.07,"lo":-0.12,"hi":-0.02},
    {"p":"(d)","g":"Non-peaked","x":4988,"y":-0.06,"lo":-0.11,"hi":-0.01},
    {"p":"(d)","g":"Non-peaked","x":4989,"y":0.017,"lo":-0.033,"hi":0.067},
    {"p":"(d)","g":"Non-peaked","x":4990,"y":0.019,"lo":-0.031,"hi":0.069},
    {"p":"(d)","g":"Non-peaked","x":4991,"y":-0.017,"lo":-0.067,"hi":0.033},
    {"p":"(d)","g":"Non-peaked","x":4992,"y":0.071,"lo":0.021,"hi":0.121},
    {"p":"(d)","g":"Non-peaked","x":4993,"y":0.039,"lo":-0.011,"hi":0.089},
    {"p":"(d)","g":"Non-peaked","x":4994,"y":-0.006,"lo":-0.056,"hi":0.044},
    {"p":"(d)","g":"Non-peaked","x":4995,"y":-0.05,"lo":-0.1,"hi":0.0},
    {"p":"(d)","g":"Non-peaked","x":4996,"y":-0.07,"lo":-0.12,"hi":-0.02},
    {"p":"(d)","g":"Non-peaked","x":4997,"y":-0.05,"lo":-0.1,"hi":0.0},
    {"p":"(d)","g":"Non-peaked","x":4998,"y":0.0,"lo":-0.05,"hi":0.05},
    {"p":"(d)","g":"Non-peaked","x":4999,"y":0.036,"lo":-0.014,"hi":0.086},
    {"p":"(d)","g":"Non-peaked","x":5000,"y":-0.06,"lo":-0.11,"hi":-0.01},
    {"p":"(d)","g":"Non-peaked","x":5001,"y":0.0,"lo":-0.05,"hi":0.05},
    {"p":"(d)","g":"Non-peaked","x":5002,"y":0.202,"lo":0.122,"hi":0.282},
    {"p":"(d)","g":"Non-peaked","x":5003,"y":0.263,"lo":0.183,"hi":0.343},
    {"p":"(d)","g":"Non-peaked","x":5004,"y":0.369,"lo":0.249,"hi":0.489},
    {"p":"(d)","g":"Non-peaked","x":5005,"y":0.662,"lo":0.482,"hi":0.842},
    {"p":"(d)","g":"Non-peaked","x":5006,"y":0.828,"lo":0.578,"hi":1.078},
    {"p":"(d)","g":"Non-peaked","x":5007,"y":0.88,"lo":0.63,"hi":1.13},
    {"p":"(d)","g":"Non-peaked","x":5008,"y":0.996,"lo":0.696,"hi":1.296},
    {"p":"(d)","g":"Non-peaked","x":5009,"y":1.0,"lo":0.7,"hi":1.3},
    {"p":"(d)","g":"Non-peaked","x":5010,"y":0.778,"lo":0.528,"hi":1.028},
    {"p":"(d)","g":"Non-peaked","x":5011,"y":0.614,"lo":0.434,"hi":0.794},
    {"p":"(d)","g":"Non-peaked","x":5012,"y":0.44,"lo":0.32,"hi":0.56},
    {"p":"(d)","g":"Non-peaked","x":5013,"y":0.289,"lo":0.209,"hi":0.369},
    {"p":"(d)","g":"Non-peaked","x":5014,"y":0.184,"lo":0.104,"hi":0.264},
    {"p":"(d)","g":"Non-peaked","x":5015,"y":0.183,"lo":0.103,"hi":0.263},
    {"p":"(d)","g":"Non-peaked","x":5016,"y":0.036,"lo":-0.014,"hi":0.086},
    {"p":"(d)","g":"Non-peaked","x":5017,"y":-0.019,"lo":-0.069,"hi":0.031},
    {"p":"(d)","g":"Non-peaked","x":5018,"y":0.039,"lo":-0.011,"hi":0.089},
    {"p":"(d)","g":"Non-peaked","x":5019,"y":0.026,"lo":-0.024,"hi":0.076},
    {"p":"(d)","g":"Non-peaked","x":5020,"y":-0.03,"lo":-0.08,"hi":0.02},
    {"p":"(d)","g":"Non-peaked","x":5021,"y":0.003,"lo":-0.047,"hi":0.053},
    {"p":"(d)","g":"Non-peaked","x":5022,"y":-0.01,"lo":-0.06,"hi":0.04},
    {"p":"(d)","g":"Non-peaked","x":5023,"y":-0.019,"lo":-0.069,"hi":0.031},
    {"p":"(d)","g":"Non-peaked","x":5024,"y":0.013,"lo":-0.037,"hi":0.063},
    {"p":"(d)","g":"Non-peaked","x":5025,"y":0.084,"lo":0.034,"hi":0.134},
    {"p":"(d)","g":"Non-peaked","x":5026,"y":-0.032,"lo":-0.082,"hi":0.018},
    {"p":"(d)","g":"Non-peaked","x":5027,"y":-0.06,"lo":-0.11,"hi":-0.01},
    {"p":"(d)","g":"Non-peaked","x":5028,"y":-0.032,"lo":-0.082,"hi":0.018},
    {"p":"(d)","g":"Non-peaked","x":5029,"y":0.045,"lo":-0.005,"hi":0.095},
    {"p":"(d)","g":"Non-peaked","x":5030,"y":-0.08,"lo":-0.13,"hi":-0.03},
    {"p":"(d)","g":"Non-peaked","x":5031,"y":-0.1,"lo":-0.15,"hi":-0.05},
    {"p":"(d)","g":"Non-peaked","x":5032,"y":-0.07,"lo":-0.12,"hi":-0.02},
    {"p":"(d)","g":"Non-peaked","x":5033,"y":-0.026,"lo":-0.076,"hi":0.024},
    {"p":"(d)","g":"Peaked","x":4981,"y":-0.07,"lo":-0.095,"hi":-0.045},
    {"p":"(d)","g":"Peaked","x":4982,"y":-0.06,"lo":-0.085,"hi":-0.035},
    {"p":"(d)","g":"Peaked","x":4983,"y":-0.045,"lo":-0.07,"hi":-0.02},
    {"p":"(d)","g":"Peaked","x":4984,"y":-0.006,"lo":-0.031,"hi":0.019},
    {"p":"(d)","g":"Peaked","x":4985,"y":0.019,"lo":-0.006,"hi":0.044},
    {"p":"(d)","g":"Peaked","x":4986,"y":0.019,"lo":-0.006,"hi":0.044},
    {"p":"(d)","g":"Peaked","x":4987,"y":0.058,"lo":0.033,"hi":0.083},
    {"p":"(d)","g":"Peaked","x":4988,"y":0.099,"lo":0.074,"hi":0.124},
    {"p":"(d)","g":"Peaked","x":4989,"y":0.087,"lo":0.062,"hi":0.112},
    {"p":"(d)","g":"Peaked","x":4990,"y":0.028,"lo":0.003,"hi":0.053},
    {"p":"(d)","g":"Peaked","x":4991,"y":0.009,"lo":-0.016,"hi":0.034},
    {"p":"(d)","g":"Peaked","x":4992,"y":-0.003,"lo":-0.028,"hi":0.022},
    {"p":"(d)","g":"Peaked","x":4993,"y":0.041,"lo":0.016,"hi":0.066},
    {"p":"(d)","g":"Peaked","x":4994,"y":0.039,"lo":0.014,"hi":0.064},
    {"p":"(d)","g":"Peaked","x":4995,"y":0.0,"lo":-0.025,"hi":0.025},
    {"p":"(d)","g":"Peaked","x":4996,"y":-0.045,"lo":-0.07,"hi":-0.02},
    {"p":"(d)","g":"Peaked","x":4997,"y":-0.03,"lo":-0.055,"hi":-0.005},
    {"p":"(d)","g":"Peaked","x":4998,"y":-0.009,"lo":-0.034,"hi":0.016},
    {"p":"(d)","g":"Peaked","x":4999,"y":0.055,"lo":0.03,"hi":0.08},
    {"p":"(d)","g":"Peaked","x":5000,"y":0.073,"lo":0.048,"hi":0.098},
    {"p":"(d)","g":"Peaked","x":5001,"y":0.103,"lo":0.078,"hi":0.128},
    {"p":"(d)","g":"Peaked","x":5002,"y":0.109,"lo":0.084,"hi":0.134},
    {"p":"(d)","g":"Peaked","x":5003,"y":0.221,"lo":0.181,"hi":0.261},
    {"p":"(d)","g":"Peaked","x":5004,"y":0.338,"lo":0.278,"hi":0.398},
    {"p":"(d)","g":"Peaked","x":5005,"y":0.501,"lo":0.441,"hi":0.561},
    {"p":"(d)","g":"Peaked","x":5006,"y":0.72,"lo":0.64,"hi":0.8},
    {"p":"(d)","g":"Peaked","x":5007,"y":0.865,"lo":0.745,"hi":0.985},
    {"p":"(d)","g":"Peaked","x":5008,"y":1.0,"lo":0.88,"hi":1.12},
    {"p":"(d)","g":"Peaked","x":5009,"y":0.913,"lo":0.793,"hi":1.033},
    {"p":"(d)","g":"Peaked","x":5010,"y":0.784,"lo":0.704,"hi":0.864},
    {"p":"(d)","g":"Peaked","x":5011,"y":0.594,"lo":0.534,"hi":0.654},
    {"p":"(d)","g":"Peaked","x":5012,"y":0.437,"lo":0.377,"hi":0.497},
    {"p":"(d)","g":"Peaked","x":5013,"y":0.35,"lo":0.29,"hi":0.41},
    {"p":"(d)","g":"Peaked","x":5014,"y":0.251,"lo":0.211,"hi":0.291},
    {"p":"(d)","g":"Peaked","x":5015,"y":0.141,"lo":0.116,"hi":0.166},
    {"p":"(d)","g":"Peaked","x":5016,"y":0.107,"lo":0.082,"hi":0.132},
    {"p":"(d)","g":"Peaked","x":5017,"y":0.141,"lo":0.111,"hi":0.171},
    {"p":"(d)","g":"Peaked","x":5018,"y":0.116,"lo":0.086,"hi":0.146},
    {"p":"(d)","g":"Peaked","x":5019,"y":0.099,"lo":0.069,"hi":0.129},
    {"p":"(d)","g":"Peaked","x":5020,"y":0.105,"lo":0.075,"hi":0.135},
    {"p":"(d)","g":"Peaked","x":5021,"y":0.09,"lo":0.06,"hi":0.12},
    {"p":"(d)","g":"Peaked","x":5022,"y":0.105,"lo":0.075,"hi":0.135},
    {"p":"(d)","g":"Peaked","x":5023,"y":0.064,"lo":0.039,"hi":0.089},
    {"p":"(d)","g":"Peaked","x":5024,"y":0.01,"lo":-0.015,"hi":0.035},
    {"p":"(d)","g":"Peaked","x":5025,"y":0.0,"lo":-0.025,"hi":0.025},
    {"p":"(d)","g":"Peaked","x":5026,"y":0.0,"lo":-0.025,"hi":0.025},
    {"p":"(d)","g":"Peaked","x":5027,"y":0.045,"lo":0.02,"hi":0.07},
    {"p":"(d)","g":"Peaked","x":5028,"y":0.041,"lo":0.016,"hi":0.066},
    {"p":"(d)","g":"Peaked","x":5029,"y":0.023,"lo":-0.002,"hi":0.048},
    {"p":"(d)","g":"Peaked","x":5030,"y":-0.06,"lo":-0.085,"hi":-0.035},
    {"p":"(d)","g":"Peaked","x":5031,"y":-0.07,"lo":-0.095,"hi":-0.045},
    {"p":"(d)","g":"Peaked","x":5032,"y":-0.05,"lo":-0.075,"hi":-0.025},
    {"p":"(d)","g":"Peaked","x":5033,"y":-0.019,"lo":-0.044,"hi":0.006},

    {"p":"(e)","g":"Non-peaked","x":4981,"y":-0.03,"lo":-0.04,"hi":-0.02},
    {"p":"(e)","g":"Non-peaked","x":4982,"y":-0.01,"lo":-0.02,"hi":0.0},
    {"p":"(e)","g":"Non-peaked","x":4983,"y":-0.015,"lo":-0.025,"hi":-0.005},
    {"p":"(e)","g":"Non-peaked","x":4984,"y":0.0,"lo":-0.01,"hi":0.01},
    {"p":"(e)","g":"Non-peaked","x":4985,"y":0.019,"lo":0.009,"hi":0.029},
    {"p":"(e)","g":"Non-peaked","x":4986,"y":0.023,"lo":0.013,"hi":0.033},
    {"p":"(e)","g":"Non-peaked","x":4987,"y":-0.004,"lo":-0.014,"hi":0.006},
    {"p":"(e)","g":"Non-peaked","x":4988,"y":0.004,"lo":-0.006,"hi":0.014},
    {"p":"(e)","g":"Non-peaked","x":4989,"y":0.022,"lo":0.012,"hi":0.032},
    {"p":"(e)","g":"Non-peaked","x":4990,"y":0.015,"lo":0.005,"hi":0.025},
    {"p":"(e)","g":"Non-peaked","x":4991,"y":0.01,"lo":0.0,"hi":0.02},
    {"p":"(e)","g":"Non-peaked","x":4992,"y":0.03,"lo":0.02,"hi":0.04},
    {"p":"(e)","g":"Non-peaked","x":4993,"y":-0.004,"lo":-0.014,"hi":0.006},
    {"p":"(e)","g":"Non-peaked","x":4994,"y":0.009,"lo":-0.001,"hi":0.019},
    {"p":"(e)","g":"Non-peaked","x":4995,"y":0.028,"lo":0.018,"hi":0.038},
    {"p":"(e)","g":"Non-peaked","x":4996,"y":0.03,"lo":0.02,"hi":0.04},
    {"p":"(e)","g":"Non-peaked","x":4997,"y":0.042,"lo":0.032,"hi":0.052},
    {"p":"(e)","g":"Non-peaked","x":4998,"y":0.068,"lo":0.058,"hi":0.078},
    {"p":"(e)","g":"Non-peaked","x":4999,"y":0.08,"lo":0.07,"hi":0.09},
    {"p":"(e)","g":"Non-peaked","x":5000,"y":0.118,"lo":0.098,"hi":0.138},
    {"p":"(e)","g":"Non-peaked","x":5001,"y":0.165,"lo":0.145,"hi":0.185},
    {"p":"(e)","g":"Non-peaked","x":5002,"y":0.225,"lo":0.205,"hi":0.245},
    {"p":"(e)","g":"Non-peaked","x":5003,"y":0.328,"lo":0.298,"hi":0.358},
    {"p":"(e)","g":"Non-peaked","x":5004,"y":0.452,"lo":0.422,"hi":0.482},
    {"p":"(e)","g":"Non-peaked","x":5005,"y":0.601,"lo":0.551,"hi":0.651},
    {"p":"(e)","g":"Non-peaked","x":5006,"y":0.775,"lo":0.725,"hi":0.825},
    {"p":"(e)","g":"Non-peaked","x":5007,"y":0.919,"lo":0.849,"hi":0.989},
    {"p":"(e)","g":"Non-peaked","x":5008,"y":0.996,"lo":0.896,"hi":1.096},
    {"p":"(e)","g":"Non-peaked","x":5009,"y":0.993,"lo":0.893,"hi":1.093},
    {"p":"(e)","g":"Non-peaked","x":5010,"y":0.846,"lo":0.776,"hi":0.916},
    {"p":"(e)","g":"Non-peaked","x":5011,"y":0.671,"lo":0.621,"hi":0.721},
    {"p":"(e)","g":"Non-peaked","x":5012,"y":0.536,"lo":0.506,"hi":0.566},
    {"p":"(e)","g":"Non-peaked","x":5013,"y":0.398,"lo":0.368,"hi":0.428},
    {"p":"(e)","g":"Non-peaked","x":5014,"y":0.27,"lo":0.25,"hi":0.29},
    {"p":"(e)","g":"Non-peaked","x":5015,"y":0.203,"lo":0.183,"hi":0.223},
    {"p":"(e)","g":"Non-peaked","x":5016,"y":0.145,"lo":0.125,"hi":0.165},
    {"p":"(e)","g":"Non-peaked","x":5017,"y":0.116,"lo":0.096,"hi":0.136},
    {"p":"(e)","g":"Non-peaked","x":5018,"y":0.086,"lo":0.076,"hi":0.096},
    {"p":"(e)","g":"Non-peaked","x":5019,"y":0.075,"lo":0.065,"hi":0.085},
    {"p":"(e)","g":"Non-peaked","x":5020,"y":0.054,"lo":0.044,"hi":0.064},
    {"p":"(e)","g":"Non-peaked","x":5021,"y":0.032,"lo":0.022,"hi":0.042},
    {"p":"(e)","g":"Non-peaked","x":5022,"y":0.028,"lo":0.018,"hi":0.038},
    {"p":"(e)","g":"Non-peaked","x":5023,"y":0.036,"lo":0.026,"hi":0.046},
    {"p":"(e)","g":"Non-peaked","x":5024,"y":0.042,"lo":0.032,"hi":0.052},
    {"p":"(e)","g":"Non-peaked","x":5025,"y":0.036,"lo":0.026,"hi":0.046},
    {"p":"(e)","g":"Non-peaked","x":5026,"y":0.003,"lo":-0.007,"hi":0.013},
    {"p":"(e)","g":"Non-peaked","x":5027,"y":-0.03,"lo":-0.04,"hi":-0.02},
    {"p":"(e)","g":"Non-peaked","x":5028,"y":-0.036,"lo":-0.046,"hi":-0.026},
    {"p":"(e)","g":"Non-peaked","x":5029,"y":-0.013,"lo":-0.023,"hi":-0.003},
    {"p":"(e)","g":"Non-peaked","x":5030,"y":-0.019,"lo":-0.029,"hi":-0.009},
    {"p":"(e)","g":"Non-peaked","x":5031,"y":0.003,"lo":-0.007,"hi":0.013},
    {"p":"(e)","g":"Non-peaked","x":5032,"y":0.006,"lo":-0.004,"hi":0.016},
    {"p":"(e)","g":"Non-peaked","x":5033,"y":0.0,"lo":-0.01,"hi":0.01},
    {"p":"(e)","g":"Peaked","x":4980,"y":-0.019,"lo":-0.031,"hi":-0.007},
    {"p":"(e)","g":"Peaked","x":4981,"y":-0.023,"lo":-0.035,"hi":-0.011},
    {"p":"(e)","g":"Peaked","x":4982,"y":-0.006,"lo":-0.018,"hi":0.006},
    {"p":"(e)","g":"Peaked","x":4983,"y":0.023,"lo":0.011,"hi":0.035},
    {"p":"(e)","g":"Peaked","x":4984,"y":0.009,"lo":-0.003,"hi":0.021},
    {"p":"(e)","g":"Peaked","x":4985,"y":0.003,"lo":-0.009,"hi":0.015},
    {"p":"(e)","g":"Peaked","x":4986,"y":0.042,"lo":0.03,"hi":0.054},
    {"p":"(e)","g":"Peaked","x":4987,"y":0.067,"lo":0.055,"hi":0.079},
    {"p":"(e)","g":"Peaked","x":4988,"y":0.045,"lo":0.033,"hi":0.057},
    {"p":"(e)","g":"Peaked","x":4989,"y":0.039,"lo":0.027,"hi":0.051},
    {"p":"(e)","g":"Peaked","x":4990,"y":0.071,"lo":0.059,"hi":0.083},
    {"p":"(e)","g":"Peaked","x":4991,"y":0.067,"lo":0.055,"hi":0.079},
    {"p":"(e)","g":"Peaked","x":4992,"y":0.067,"lo":0.055,"hi":0.079},
    {"p":"(e)","g":"Peaked","x":4993,"y":0.042,"lo":0.03,"hi":0.054},
    {"p":"(e)","g":"Peaked","x":4994,"y":0.062,"lo":0.05,"hi":0.074},
    {"p":"(e)","g":"Peaked","x":4995,"y":0.067,"lo":0.055,"hi":0.079},
    {"p":"(e)","g":"Peaked","x":4996,"y":0.09,"lo":0.078,"hi":0.102},
    {"p":"(e)","g":"Peaked","x":4997,"y":0.113,"lo":0.093,"hi":0.133},
    {"p":"(e)","g":"Peaked","x":4998,"y":0.113,"lo":0.093,"hi":0.133},
    {"p":"(e)","g":"Peaked","x":4999,"y":0.126,"lo":0.106,"hi":0.146},
    {"p":"(e)","g":"Peaked","x":5000,"y":0.152,"lo":0.132,"hi":0.172},
    {"p":"(e)","g":"Peaked","x":5001,"y":0.208,"lo":0.188,"hi":0.228},
    {"p":"(e)","g":"Peaked","x":5002,"y":0.3,"lo":0.27,"hi":0.33},
    {"p":"(e)","g":"Peaked","x":5003,"y":0.428,"lo":0.398,"hi":0.458},
    {"p":"(e)","g":"Peaked","x":5004,"y":0.559,"lo":0.529,"hi":0.589},
    {"p":"(e)","g":"Peaked","x":5005,"y":0.707,"lo":0.657,"hi":0.757},
    {"p":"(e)","g":"Peaked","x":5006,"y":0.838,"lo":0.768,"hi":0.908},
    {"p":"(e)","g":"Peaked","x":5007,"y":0.938,"lo":0.868,"hi":1.008},
    {"p":"(e)","g":"Peaked","x":5008,"y":1.0,"lo":0.9,"hi":1.1},
    {"p":"(e)","g":"Peaked","x":5009,"y":0.99,"lo":0.89,"hi":1.09},
    {"p":"(e)","g":"Peaked","x":5010,"y":0.88,"lo":0.81,"hi":0.95},
    {"p":"(e)","g":"Peaked","x":5011,"y":0.775,"lo":0.725,"hi":0.825},
    {"p":"(e)","g":"Peaked","x":5012,"y":0.645,"lo":0.595,"hi":0.695},
    {"p":"(e)","g":"Peaked","x":5013,"y":0.469,"lo":0.439,"hi":0.499},
    {"p":"(e)","g":"Peaked","x":5014,"y":0.325,"lo":0.295,"hi":0.355},
    {"p":"(e)","g":"Peaked","x":5015,"y":0.26,"lo":0.24,"hi":0.28},
    {"p":"(e)","g":"Peaked","x":5016,"y":0.215,"lo":0.195,"hi":0.235},
    {"p":"(e)","g":"Peaked","x":5017,"y":0.15,"lo":0.13,"hi":0.17},
    {"p":"(e)","g":"Peaked","x":5018,"y":0.094,"lo":0.082,"hi":0.106},
    {"p":"(e)","g":"Peaked","x":5019,"y":0.086,"lo":0.074,"hi":0.098},
    {"p":"(e)","g":"Peaked","x":5020,"y":0.099,"lo":0.087,"hi":0.111},
    {"p":"(e)","g":"Peaked","x":5021,"y":0.077,"lo":0.065,"hi":0.089},
    {"p":"(e)","g":"Peaked","x":5022,"y":0.068,"lo":0.056,"hi":0.08},
    {"p":"(e)","g":"Peaked","x":5023,"y":0.055,"lo":0.043,"hi":0.067},
    {"p":"(e)","g":"Peaked","x":5024,"y":0.019,"lo":0.007,"hi":0.031},
    {"p":"(e)","g":"Peaked","x":5025,"y":0.028,"lo":0.016,"hi":0.04},
    {"p":"(e)","g":"Peaked","x":5026,"y":0.033,"lo":0.021,"hi":0.045},
    {"p":"(e)","g":"Peaked","x":5027,"y":0.006,"lo":-0.006,"hi":0.018},
    {"p":"(e)","g":"Peaked","x":5028,"y":0.023,"lo":0.011,"hi":0.035},
    {"p":"(e)","g":"Peaked","x":5029,"y":0.028,"lo":0.016,"hi":0.04},
    {"p":"(e)","g":"Peaked","x":5030,"y":-0.003,"lo":-0.015,"hi":0.009},
    {"p":"(e)","g":"Peaked","x":5031,"y":-0.013,"lo":-0.025,"hi":-0.001},
    {"p":"(e)","g":"Peaked","x":5032,"y":-0.035,"lo":-0.047,"hi":-0.023},
    {"p":"(e)","g":"Peaked","x":5033,"y":-0.054,"lo":-0.066,"hi":-0.042},

    {"p":"(f)","g":"Non-peaked","x":4980,"y":0.0,"lo":-0.005,"hi":0.005},
    {"p":"(f)","g":"Non-peaked","x":4981,"y":0.0,"lo":-0.005,"hi":0.005},
    {"p":"(f)","g":"Non-peaked","x":4982,"y":0.003,"lo":-0.002,"hi":0.008},
    {"p":"(f)","g":"Non-peaked","x":4983,"y":0.004,"lo":-0.001,"hi":0.009},
    {"p":"(f)","g":"Non-peaked","x":4984,"y":0.009,"lo":0.004,"hi":0.014},
    {"p":"(f)","g":"Non-peaked","x":4985,"y":0.009,"lo":0.004,"hi":0.014},
    {"p":"(f)","g":"Non-peaked","x":4986,"y":0.01,"lo":0.005,"hi":0.015},
    {"p":"(f)","g":"Non-peaked","x":4987,"y":0.019,"lo":0.014,"hi":0.024},
    {"p":"(f)","g":"Non-peaked","x":4988,"y":0.023,"lo":0.018,"hi":0.028},
    {"p":"(f)","g":"Non-peaked","x":4989,"y":0.019,"lo":0.014,"hi":0.024},
    {"p":"(f)","g":"Non-peaked","x":4990,"y":0.019,"lo":0.014,"hi":0.024},
    {"p":"(f)","g":"Non-peaked","x":4991,"y":0.026,"lo":0.021,"hi":0.031},
    {"p":"(f)","g":"Non-peaked","x":4992,"y":0.035,"lo":0.03,"hi":0.04},
    {"p":"(f)","g":"Non-peaked","x":4993,"y":0.035,"lo":0.03,"hi":0.04},
    {"p":"(f)","g":"Non-peaked","x":4994,"y":0.039,"lo":0.034,"hi":0.044},
    {"p":"(f)","g":"Non-peaked","x":4995,"y":0.042,"lo":0.037,"hi":0.047},
    {"p":"(f)","g":"Non-peaked","x":4996,"y":0.045,"lo":0.04,"hi":0.05},
    {"p":"(f)","g":"Non-peaked","x":4997,"y":0.051,"lo":0.046,"hi":0.056},
    {"p":"(f)","g":"Non-peaked","x":4998,"y":0.067,"lo":0.062,"hi":0.072},
    {"p":"(f)","g":"Non-peaked","x":4999,"y":0.084,"lo":0.079,"hi":0.089},
    {"p":"(f)","g":"Non-peaked","x":5000,"y":0.109,"lo":0.094,"hi":0.124},
    {"p":"(f)","g":"Non-peaked","x":5001,"y":0.15,"lo":0.135,"hi":0.165},
    {"p":"(f)","g":"Non-peaked","x":5002,"y":0.221,"lo":0.206,"hi":0.236},
    {"p":"(f)","g":"Non-peaked","x":5003,"y":0.311,"lo":0.281,"hi":0.341},
    {"p":"(f)","g":"Non-peaked","x":5004,"y":0.44,"lo":0.41,"hi":0.47},
    {"p":"(f)","g":"Non-peaked","x":5005,"y":0.598,"lo":0.568,"hi":0.628},
    {"p":"(f)","g":"Non-peaked","x":5006,"y":0.769,"lo":0.719,"hi":0.819},
    {"p":"(f)","g":"Non-peaked","x":5007,"y":0.923,"lo":0.843,"hi":1.003},
    {"p":"(f)","g":"Non-peaked","x":5008,"y":1.0,"lo":0.89,"hi":1.11},
    {"p":"(f)","g":"Non-peaked","x":5009,"y":0.995,"lo":0.885,"hi":1.105},
    {"p":"(f)","g":"Non-peaked","x":5010,"y":0.87,"lo":0.79,"hi":0.95},
    {"p":"(f)","g":"Non-peaked","x":5011,"y":0.681,"lo":0.631,"hi":0.731},
    {"p":"(f)","g":"Non-peaked","x":5012,"y":0.494,"lo":0.464,"hi":0.524},
    {"p":"(f)","g":"Non-peaked","x":5013,"y":0.356,"lo":0.326,"hi":0.386},
    {"p":"(f)","g":"Non-peaked","x":5014,"y":0.253,"lo":0.238,"hi":0.268},
    {"p":"(f)","g":"Non-peaked","x":5015,"y":0.18,"lo":0.165,"hi":0.195},
    {"p":"(f)","g":"Non-peaked","x":5016,"y":0.129,"lo":0.114,"hi":0.144},
    {"p":"(f)","g":"Non-peaked","x":5017,"y":0.09,"lo":0.085,"hi":0.095},
    {"p":"(f)","g":"Non-peaked","x":5018,"y":0.067,"lo":0.062,"hi":0.072},
    {"p":"(f)","g":"Non-peaked","x":5019,"y":0.049,"lo":0.044,"hi":0.054},
    {"p":"(f)","g":"Non-peaked","x":5020,"y":0.045,"lo":0.04,"hi":0.05},
    {"p":"(f)","g":"Non-peaked","x":5021,"y":0.036,"lo":0.031,"hi":0.041},
    {"p":"(f)","g":"Non-peaked","x":5022,"y":0.028,"lo":0.023,"hi":0.033},
    {"p":"(f)","g":"Non-peaked","x":5023,"y":0.023,"lo":0.018,"hi":0.028},
    {"p":"(f)","g":"Non-peaked","x":5024,"y":0.023,"lo":0.018,"hi":0.028},
    {"p":"(f)","g":"Non-peaked","x":5025,"y":0.019,"lo":0.014,"hi":0.024},
    {"p":"(f)","g":"Non-peaked","x":5026,"y":0.015,"lo":0.01,"hi":0.02},
    {"p":"(f)","g":"Non-peaked","x":5027,"y":0.01,"lo":0.005,"hi":0.015},
    {"p":"(f)","g":"Non-peaked","x":5028,"y":0.009,"lo":0.004,"hi":0.014},
    {"p":"(f)","g":"Non-peaked","x":5029,"y":0.009,"lo":0.004,"hi":0.014},
    {"p":"(f)","g":"Non-peaked","x":5030,"y":0.013,"lo":0.008,"hi":0.018},
    {"p":"(f)","g":"Non-peaked","x":5031,"y":0.006,"lo":0.001,"hi":0.011},
    {"p":"(f)","g":"Non-peaked","x":5032,"y":-0.006,"lo":-0.011,"hi":-0.001},
    {"p":"(f)","g":"Non-peaked","x":5033,"y":0.003,"lo":-0.002,"hi":0.008},
    {"p":"(f)","g":"Peaked","x":4980,"y":0.004,"lo":-0.006,"hi":0.014},
    {"p":"(f)","g":"Peaked","x":4981,"y":0.013,"lo":0.003,"hi":0.023},
    {"p":"(f)","g":"Peaked","x":4982,"y":0.013,"lo":0.003,"hi":0.023},
    {"p":"(f)","g":"Peaked","x":4983,"y":0.017,"lo":0.007,"hi":0.027},
    {"p":"(f)","g":"Peaked","x":4984,"y":0.032,"lo":0.022,"hi":0.042},
    {"p":"(f)","g":"Peaked","x":4985,"y":0.028,"lo":0.018,"hi":0.038},
    {"p":"(f)","g":"Peaked","x":4986,"y":0.036,"lo":0.026,"hi":0.046},
    {"p":"(f)","g":"Peaked","x":4987,"y":0.051,"lo":0.041,"hi":0.061},
    {"p":"(f)","g":"Peaked","x":4988,"y":0.055,"lo":0.045,"hi":0.065},
    {"p":"(f)","g":"Peaked","x":4989,"y":0.049,"lo":0.039,"hi":0.059},
    {"p":"(f)","g":"Peaked","x":4990,"y":0.051,"lo":0.041,"hi":0.061},
    {"p":"(f)","g":"Peaked","x":4991,"y":0.058,"lo":0.048,"hi":0.068},
    {"p":"(f)","g":"Peaked","x":4992,"y":0.067,"lo":0.057,"hi":0.077},
    {"p":"(f)","g":"Peaked","x":4993,"y":0.073,"lo":0.063,"hi":0.083},
    {"p":"(f)","g":"Peaked","x":4994,"y":0.08,"lo":0.07,"hi":0.09},
    {"p":"(f)","g":"Peaked","x":4995,"y":0.077,"lo":0.067,"hi":0.087},
    {"p":"(f)","g":"Peaked","x":4996,"y":0.099,"lo":0.089,"hi":0.109},
    {"p":"(f)","g":"Peaked","x":4997,"y":0.113,"lo":0.083,"hi":0.143},
    {"p":"(f)","g":"Peaked","x":4998,"y":0.139,"lo":0.109,"hi":0.169},
    {"p":"(f)","g":"Peaked","x":4999,"y":0.158,"lo":0.128,"hi":0.188},
    {"p":"(f)","g":"Peaked","x":5000,"y":0.193,"lo":0.163,"hi":0.223},
    {"p":"(f)","g":"Peaked","x":5001,"y":0.247,"lo":0.217,"hi":0.277},
    {"p":"(f)","g":"Peaked","x":5002,"y":0.319,"lo":0.259,"hi":0.379},
    {"p":"(f)","g":"Peaked","x":5003,"y":0.422,"lo":0.362,"hi":0.482},
    {"p":"(f)","g":"Peaked","x":5004,"y":0.521,"lo":0.461,"hi":0.581},
    {"p":"(f)","g":"Peaked","x":5005,"y":0.63,"lo":0.54,"hi":0.72},
    {"p":"(f)","g":"Peaked","x":5006,"y":0.761,"lo":0.671,"hi":0.851},
    {"p":"(f)","g":"Peaked","x":5007,"y":0.88,"lo":0.76,"hi":1.0},
    {"p":"(f)","g":"Peaked","x":5008,"y":0.981,"lo":0.821,"hi":1.141},
    {"p":"(f)","g":"Peaked","x":5009,"y":1.0,"lo":0.84,"hi":1.16},
    {"p":"(f)","g":"Peaked","x":5010,"y":0.915,"lo":0.795,"hi":1.035},
    {"p":"(f)","g":"Peaked","x":5011,"y":0.765,"lo":0.675,"hi":0.855},
    {"p":"(f)","g":"Peaked","x":5012,"y":0.62,"lo":0.53,"hi":0.71},
    {"p":"(f)","g":"Peaked","x":5013,"y":0.504,"lo":0.444,"hi":0.564},
    {"p":"(f)","g":"Peaked","x":5014,"y":0.395,"lo":0.335,"hi":0.455},
    {"p":"(f)","g":"Peaked","x":5015,"y":0.321,"lo":0.261,"hi":0.381},
    {"p":"(f)","g":"Peaked","x":5016,"y":0.266,"lo":0.236,"hi":0.296},
    {"p":"(f)","g":"Peaked","x":5017,"y":0.195,"lo":0.165,"hi":0.225},
    {"p":"(f)","g":"Peaked","x":5018,"y":0.144,"lo":0.114,"hi":0.174},
    {"p":"(f)","g":"Peaked","x":5019,"y":0.129,"lo":0.099,"hi":0.159},
    {"p":"(f)","g":"Peaked","x":5020,"y":0.109,"lo":0.079,"hi":0.139},
    {"p":"(f)","g":"Peaked","x":5021,"y":0.093,"lo":0.083,"hi":0.103},
    {"p":"(f)","g":"Peaked","x":5022,"y":0.077,"lo":0.067,"hi":0.087},
    {"p":"(f)","g":"Peaked","x":5023,"y":0.073,"lo":0.063,"hi":0.083},
    {"p":"(f)","g":"Peaked","x":5024,"y":0.058,"lo":0.048,"hi":0.068},
    {"p":"(f)","g":"Peaked","x":5025,"y":0.045,"lo":0.035,"hi":0.055},
    {"p":"(f)","g":"Peaked","x":5026,"y":0.032,"lo":0.022,"hi":0.042},
    {"p":"(f)","g":"Peaked","x":5027,"y":0.026,"lo":0.016,"hi":0.036},
    {"p":"(f)","g":"Peaked","x":5028,"y":0.028,"lo":0.018,"hi":0.038},
    {"p":"(f)","g":"Peaked","x":5029,"y":0.028,"lo":0.018,"hi":0.038},
    {"p":"(f)","g":"Peaked","x":5030,"y":0.015,"lo":0.005,"hi":0.025},
    {"p":"(f)","g":"Peaked","x":5031,"y":0.01,"lo":0.0,"hi":0.02},
    {"p":"(f)","g":"Peaked","x":5032,"y":0.019,"lo":0.009,"hi":0.029},
    {"p":"(f)","g":"Peaked","x":5033,"y":0.017,"lo":0.007,"hi":0.027}
  ]},
  "facet": {
    "field": "p",
    "type": "nominal",
    "header": {"title": null, "labelOrient": "bottom", "labelFont": "Liberation Serif, DejaVu Serif, serif", "labelFontSize": 18, "labelFontWeight": "bold", "labelColor": "black", "labelPadding": 20}
  },
  "columns": 3,
  "spacing": {"row": 8, "column": 38},
  "resolve": {"axis": {"x": "independent", "y": "independent"}},
  "spec": {
    "width": 325,
    "height": 324,
    "resolve": {"axis": {"x": "independent", "y": "independent"}},
    "layer": [
      {
        "mark": {"type": "area", "opacity": 0.16, "clip": true},
        "encoding": {
          "x": {"field": "x", "type": "quantitative", "scale": {"domain": [4980, 5034.2], "nice": false, "zero": false},
            "axis": {"orient": "bottom", "values": [4980, 4990, 5000, 5010, 5020, 5030], "format": "d", "ticks": false, "labelPadding": 5, "labelFont": "Liberation Serif, DejaVu Serif, serif", "labelFontSize": 15, "labelFlush": false, "labelOverlap": false, "title": "Rest-frame wavelength[Å]", "titleFont": "Liberation Serif, DejaVu Serif, serif", "titleFontSize": 15, "titleFontWeight": "normal", "titlePadding": 6, "domain": true}},
          "y": {"field": "lo", "type": "quantitative", "scale": {"domain": [-0.05, 1.2], "nice": false, "zero": false},
            "axis": {"orient": "left", "values": [0, 0.2, 0.4, 0.6, 0.8, 1.0, 1.2], "format": ".1f", "ticks": false, "labelPadding": 6, "labelFont": "Liberation Serif, DejaVu Serif, serif", "labelFontSize": 15, "labelFlush": false, "labelOverlap": false, "title": "Normalised flux", "titleFont": "Liberation Serif, DejaVu Serif, serif", "titleFontSize": 15, "titleFontWeight": "normal", "titlePadding": 6, "domain": true}},
          "y2": {"field": "hi"},
          "color": {"field": "g", "type": "nominal", "scale": {"domain": ["Peaked", "Non-peaked"], "range": ["#e8141c", "#2e6bb5"]},
            "legend": {"orient": "none", "legendX": 21, "legendY": 9, "title": null, "padding": 0, "symbolType": "M-1.65,0H1.65M0.35,0A0.35,0.35 0 1 1 -0.35,0A0.35,0.35 0 1 1 0.35,0Z", "symbolSize": 400, "symbolStrokeWidth": 1.8, "symbolOpacity": 1, "labelFontSize": 15, "labelColor": "black", "labelOffset": 18, "rowPadding": 4,
              "encode": {"symbols": {"update": {"fill": {"scale": "color", "field": "value"}, "stroke": {"scale": "color", "field": "value"}, "opacity": {"value": 1}, "fillOpacity": {"value": 1}, "strokeOpacity": {"value": 1}}}}}}
        }
      },
      {
        "transform": [{"filter": "datum.g === 'Non-peaked'"}],
        "mark": {"type": "line", "strokeWidth": 1.8, "clip": true},
        "encoding": {
          "x": {"field": "x", "type": "quantitative",
            "axis": {"orient": "bottom", "values": [4980, 4982, 4984, 4986, 4988, 4990, 4992, 4994, 4996, 4998, 5000, 5002, 5004, 5006, 5008, 5010, 5012, 5014, 5016, 5018, 5020, 5022, 5024, 5026, 5028, 5030, 5032, 5034], "labels": false, "title": null, "domain": false, "ticks": true, "tickWidth": 1, "tickSize": {"condition": {"test": "datum.value % 10 === 0", "value": -6}, "value": -3}}},
          "y": {"field": "y", "type": "quantitative",
            "axis": {"orient": "left", "values": [-0.05, 0, 0.05, 0.1, 0.15, 0.2, 0.25, 0.3, 0.35, 0.4, 0.45, 0.5, 0.55, 0.6, 0.65, 0.7, 0.75, 0.8, 0.85, 0.9, 0.95, 1.0, 1.05, 1.1, 1.15, 1.2], "labels": false, "title": null, "domain": false, "ticks": true, "tickWidth": 1, "tickSize": {"condition": {"test": "abs(datum.value * 5 - round(datum.value * 5)) < 0.001", "value": -6}, "value": -3}}},
          "color": {"field": "g", "type": "nominal"}
        }
      },
      {
        "transform": [{"filter": "datum.g === 'Non-peaked'"}],
        "mark": {"type": "point", "filled": true, "size": 42, "opacity": 1, "clip": true},
        "encoding": {
          "x": {"field": "x", "type": "quantitative",
            "axis": {"orient": "top", "values": [4980, 4982, 4984, 4986, 4988, 4990, 4992, 4994, 4996, 4998, 5000, 5002, 5004, 5006, 5008, 5010, 5012, 5014, 5016, 5018, 5020, 5022, 5024, 5026, 5028, 5030, 5032, 5034], "labels": false, "title": null, "domain": true, "ticks": true, "tickWidth": 1, "tickSize": {"condition": {"test": "datum.value % 10 === 0", "value": -6}, "value": -3}}},
          "y": {"field": "y", "type": "quantitative",
            "axis": {"orient": "right", "values": [-0.05, 0, 0.05, 0.1, 0.15, 0.2, 0.25, 0.3, 0.35, 0.4, 0.45, 0.5, 0.55, 0.6, 0.65, 0.7, 0.75, 0.8, 0.85, 0.9, 0.95, 1.0, 1.05, 1.1, 1.15, 1.2], "labels": false, "title": null, "domain": true, "ticks": true, "tickWidth": 1, "tickSize": {"condition": {"test": "abs(datum.value * 5 - round(datum.value * 5)) < 0.001", "value": -6}, "value": -3}}},
          "color": {"field": "g", "type": "nominal"}
        }
      },
      {
        "transform": [{"filter": "datum.g === 'Peaked'"}],
        "mark": {"type": "line", "strokeWidth": 1.8, "clip": true},
        "encoding": {
          "x": {"field": "x", "type": "quantitative", "axis": null},
          "y": {"field": "y", "type": "quantitative", "axis": null},
          "color": {"field": "g", "type": "nominal"}
        }
      },
      {
        "transform": [{"filter": "datum.g === 'Peaked'"}],
        "mark": {"type": "point", "filled": true, "size": 42, "opacity": 1, "clip": true},
        "encoding": {
          "x": {"field": "x", "type": "quantitative", "axis": null},
          "y": {"field": "y", "type": "quantitative", "axis": null},
          "color": {"field": "g", "type": "nominal"}
        }
      },
      {
        "transform": [{"filter": "datum.x === 5008 && datum.g === 'Peaked'"}],
        "mark": {"type": "rule", "color": "black", "strokeWidth": 1.5, "strokeDash": [6, 4]},
        "encoding": {"y": {"datum": 0, "type": "quantitative", "axis": null}}
      },
      {
        "transform": [{"filter": "datum.x === 5008 && datum.g === 'Peaked'"}],
        "mark": {"type": "rule", "color": "black", "strokeWidth": 1.5, "strokeDash": [6, 4]},
        "encoding": {"x": {"datum": 5008.24, "type": "quantitative", "axis": null}}
      }
    ]
  }
}
